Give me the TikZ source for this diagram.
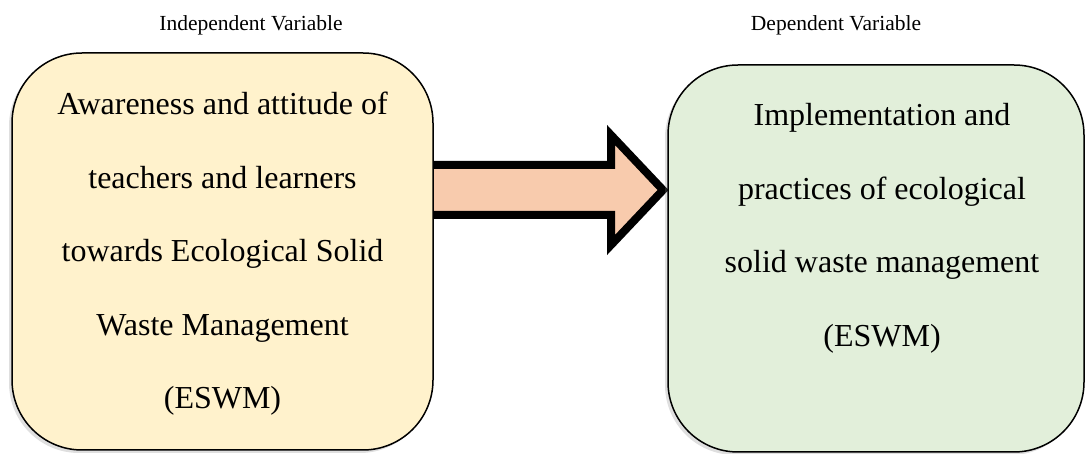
\documentclass[tikz,border=0pt]{standalone}
\usepackage{fontspec}
\setmainfont{Liberation Serif}
\usetikzlibrary{shadows}
\definecolor{leftfill}{HTML}{FFF2CC}
\definecolor{rightfill}{HTML}{E2EFDA}
\definecolor{arrowfill}{HTML}{F8CBAD}
\tikzset{
  varbox/.style={draw=black, line width=1.5pt, rounded corners=70pt,
    drop shadow={shadow xshift=-3pt, shadow yshift=-3pt, opacity=0.25}},
  boxtext/.style={align=center, font=\fontsize{32}{73.5}\selectfont, inner sep=0pt},
  headlabel/.style={font=\fontsize{21.5}{25}\selectfont, inner sep=0pt},
}
\begin{document}
\begin{tikzpicture}[x=1pt, y=-1pt]
\useasboundingbox (0,0) rectangle (1088,454);
% block arrow
\draw[line width=8pt, line join=miter, fill=arrowfill,
      drop shadow={shadow xshift=3pt, shadow yshift=-3pt, opacity=0.2}]
  (400,165) -- (611,165) -- (611,135) -- (663,190) -- (611,245) -- (611,215) -- (400,215) -- cycle;
% boxes
\draw[varbox, fill=leftfill] (12,53) rectangle (433,450);
\draw[varbox, fill=rightfill] (668,65) rectangle (1084,452);
\node[boxtext] (indep) at (222.5,254) {Awareness and attitude of\\teachers and learners\\towards Ecological Solid\\Waste Management\\(ESWM)};
\node[boxtext] (dep) at (882,228.5) {Implementation and\\practices of ecological\\solid waste management\\(ESWM)};
\node[headlabel] (lindep) at (251,25) {Independent Variable};
\node[headlabel] (ldep) at (836,25) {Dependent Variable};
\end{tikzpicture}
\end{document}
